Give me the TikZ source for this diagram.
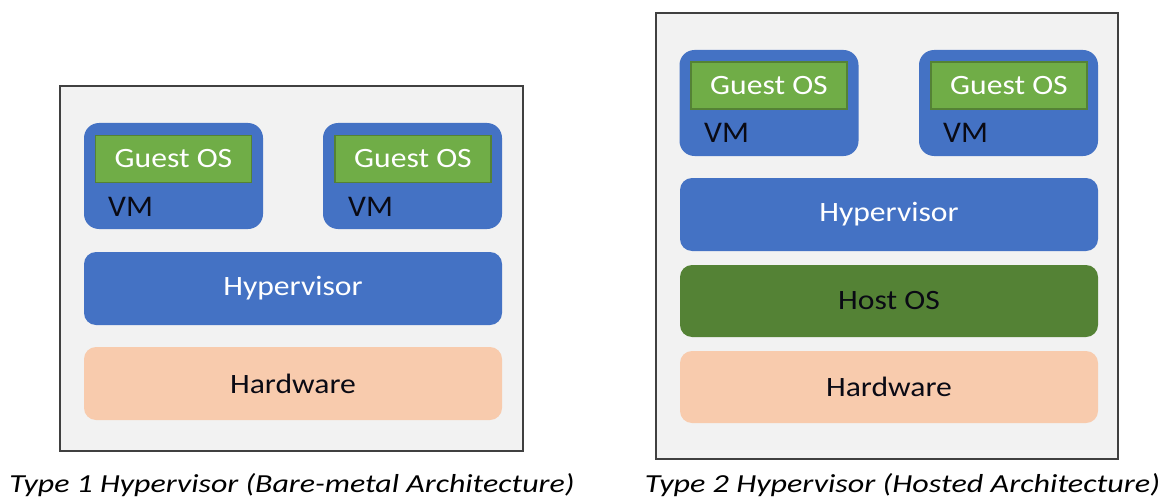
\documentclass[tikz,border=0pt]{standalone}
\usepackage{fontspec}
\setmainfont{Carlito}
\usepackage{graphicx}
\definecolor{panelgray}{HTML}{F2F2F2}
\definecolor{panelline}{HTML}{404040}
\definecolor{vmblue}{HTML}{4472C4}
\definecolor{guestgreen}{HTML}{70AD47}
\definecolor{guestline}{HTML}{548235}
\definecolor{hostgreen}{HTML}{548235}
\definecolor{hwpeach}{HTML}{F8CBAD}
\definecolor{txtdark}{HTML}{0A0A14}
\newcommand{\wtxt}[1]{\scalebox{1.13}[1]{#1}}
\newcommand{\vtxt}[1]{\scalebox{1.05}[1]{#1}}
\tikzset{
  panel/.style={draw=panelline, line width=1.6pt, fill=panelgray, inner sep=0pt, outer sep=0pt},
  vmbox/.style={fill=vmblue, rounded corners=15pt, inner sep=0pt, outer sep=0pt, minimum width=179pt, minimum height=106pt},
  guestbox/.style={fill=guestgreen, draw=guestline, line width=1.2pt, inner sep=0pt, outer sep=0pt, minimum width=156pt, minimum height=47pt, text=white, font=\fontsize{28}{32}\selectfont},
  layer/.style={rounded corners=12pt, inner sep=0pt, outer sep=0pt, minimum width=418pt, minimum height=73pt, font=\fontsize{28}{32}\selectfont},
  vmlabel/.style={anchor=west, inner sep=0pt, text=txtdark, font=\fontsize{30}{34}\selectfont},
  caption/.style={anchor=base, inner sep=0pt, text=black, font=\fontsize{26}{30}\selectfont\itshape}
}
\begin{document}
\begin{tikzpicture}[x=1pt, y=-1pt]
\useasboundingbox (0,0) rectangle (1166,500);
\fill[white] (0,0) rectangle (1166,500);

% ---------- Type 1 ----------
\node[panel, minimum width=463pt, minimum height=365pt] (p1) at (291.5,268.5) {};
\node[vmbox] (vm11) at (173.5,176) {};
\node[guestbox] (g11) at (173.5,159) {\wtxt{Guest OS}};
\node[vmlabel] (l11) at (108,207) {\vtxt{VM}};
\node[vmbox] (vm12) at (412.5,176) {};
\node[guestbox] (g12) at (413,159) {\wtxt{Guest OS}};
\node[vmlabel] (l12) at (348,207) {\vtxt{VM}};
\node[layer, fill=vmblue, text=white] (hv1) at (293,288.5) {\wtxt{Hypervisor}};
\node[layer, fill=hwpeach, text=txtdark] (hw1) at (293,383.5) {\wtxt{Hardware}};
\node[caption] (c1) at (292,492) {\resizebox{565pt}{\height}{Type 1 Hypervisor (Bare-metal Architecture)}};

% ---------- Type 2 ----------
\node[panel, minimum width=462pt, minimum height=446pt] (p2) at (887,236) {};
\node[vmbox] (vm21) at (769,103) {};
\node[guestbox] (g21) at (769,85.5) {\wtxt{Guest OS}};
\node[vmlabel] (l21) at (704,133) {\vtxt{VM}};
\node[vmbox] (vm22) at (1008.5,103) {};
\node[guestbox] (g22) at (1009,85.5) {\wtxt{Guest OS}};
\node[vmlabel] (l22) at (943,133) {\vtxt{VM}};
\node[layer, fill=vmblue, text=white] (hv2) at (889,214.5) {\wtxt{Hypervisor}};
\node[layer, fill=hostgreen, text=txtdark, minimum height=72pt] (os2) at (889,301) {\wtxt{Host OS}};
\node[layer, fill=hwpeach, text=txtdark, minimum height=72pt] (hw2) at (889,387) {\wtxt{Hardware}};
\node[caption] (c2) at (902.5,492) {\resizebox{515pt}{\height}{Type 2 Hypervisor (Hosted Architecture)}};
\end{tikzpicture}
\end{document}
